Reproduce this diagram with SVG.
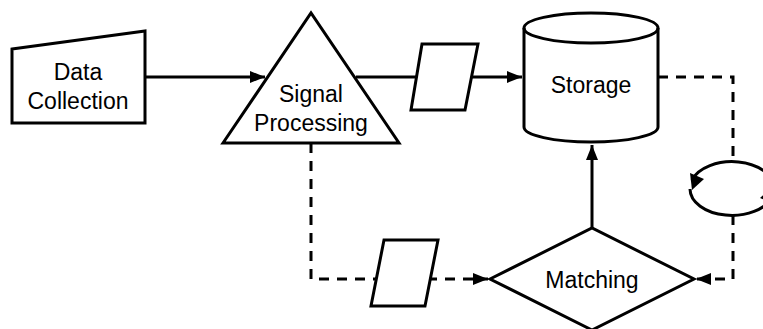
<svg xmlns="http://www.w3.org/2000/svg" width="763" height="329" viewBox="0 0 763 329">
<style>
.s{fill:#fff;stroke:#000;stroke-width:3}
.t{font-family:"Liberation Sans",Arial,sans-serif;font-size:23px;fill:#000;text-anchor:middle}
.c{fill:none;stroke:#000;stroke-width:3}
.d{stroke-dasharray:10 8}
.h{fill:#000}
</style>
<defs>
<marker id="a" viewBox="0 0 15 12" refX="15" refY="6" markerWidth="15" markerHeight="12" markerUnits="userSpaceOnUse" orient="auto"><path d="M0,0L15,6L0,12z" fill="#000"/></marker>
</defs>
<g id="connectors">
<path class="c" d="M145,77H265" marker-end="url(#a)"/>
<path class="c" d="M356,77H522" marker-end="url(#a)"/>
<path class="c" d="M592,228V145" marker-end="url(#a)"/>
<path class="c d" d="M311,143V279H488" marker-end="url(#a)"/>
<path class="c d" d="M658,77H733V162"/>
<path class="c d" d="M733,215V279H696" marker-end="url(#a)"/>
<path class="c" d="M774,188A42,26.5 0 0 0 692,180"/>
<path class="h" d="M690,173L704,179L692,190z"/>
<path class="c" d="M690,189A42,26.5 0 0 0 772,197"/>
<path class="h" d="M774,204L760,198L772,187z"/>
</g>
<g id="data-collection">
<path class="s" d="M12,49L145,31V123H12z"/>
<text class="t" x="78" y="80">Data</text>
<text class="t" x="78" y="109">Collection</text>
</g>
<g id="signal-processing">
<path class="s" d="M223,143L311,13L399,143z"/>
<text class="t" x="311" y="102">Signal</text>
<text class="t" x="311" y="131">Processing</text>
</g>
<g id="data1">
<path class="s" d="M422,44H478L465,110H411z"/>
</g>
<g id="storage">
<path class="s" d="M524,28A67,15 0 0 1 658,28V127A67,15 0 0 1 524,127z"/>
<path class="c" d="M524,28A67,15 0 0 0 658,28"/>
<text class="t" x="591" y="93">Storage</text>
</g>
<g id="data2">
<path class="s" d="M384,240H438L425,306H371z"/>
</g>
<g id="matching">
<path class="s" d="M490,279L592,228L694,279L592,330z"/>
<text class="t" x="592" y="288">Matching</text>
</g>
</svg>
